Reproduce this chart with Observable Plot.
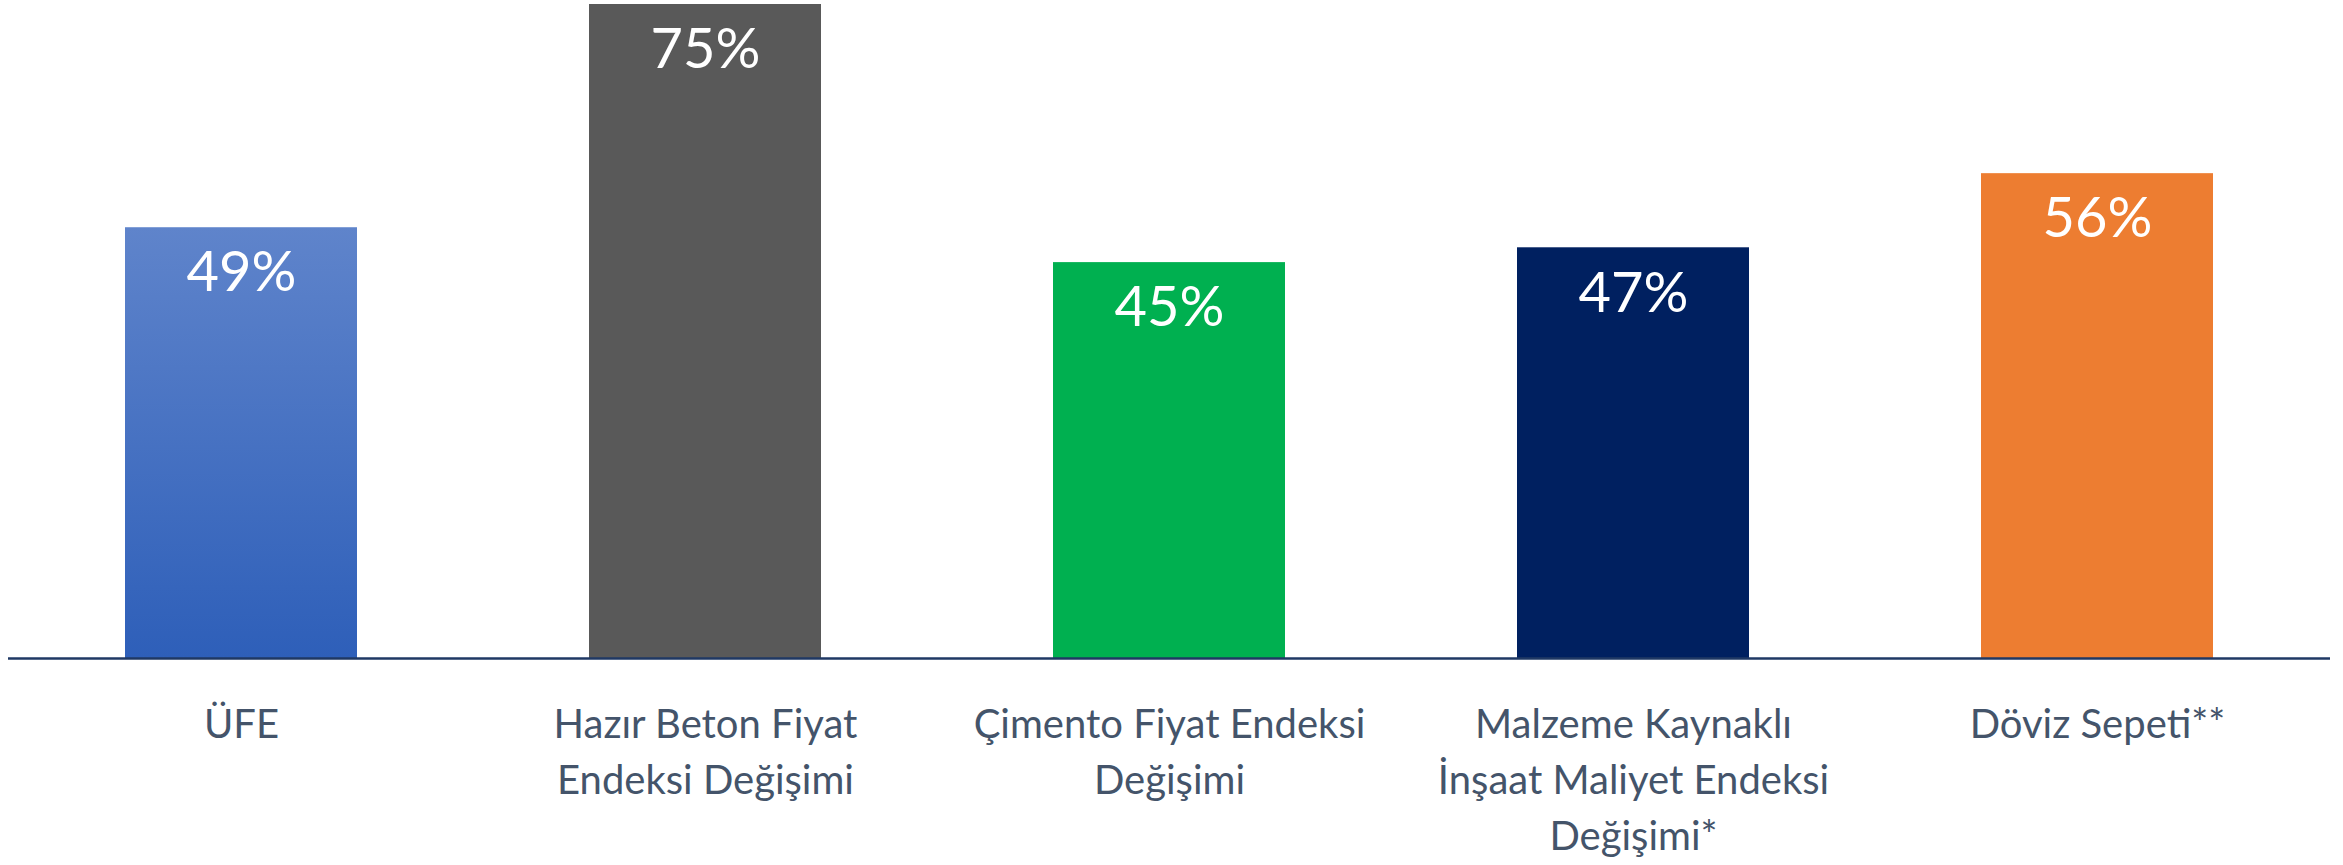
<!DOCTYPE html>
<html>
<head>
<meta charset="utf-8">
<script src="https://cdn.jsdelivr.net/npm/d3@7"></script>
<script src="https://cdn.jsdelivr.net/npm/@observablehq/plot@0.6"></script>
<style>
  html, body { margin: 0; padding: 0; background: #ffffff; }
  #chart svg { display: block; }
</style>
</head>
<body>
<div id="chart"></div>
<script>
// Categories (x axis)
const categories = [
  "ÜFE",
  "Hazır Beton Fiyat Endeksi Değişimi",
  "Çimento Fiyat Endeksi Değişimi",
  "Malzeme Kaynaklı İnşaat Maliyet Endeksi Değişimi*",
  "Döviz Sepeti**"
];
// Tick labels as displayed (with line breaks)
const tickLabels = [
  "ÜFE",
  "Hazır Beton Fiyat\nEndeksi Değişimi",
  "Çimento Fiyat Endeksi\nDeğişimi",
  "Malzeme Kaynaklı\nİnşaat Maliyet Endeksi\nDeğişimi*",
  "Döviz Sepeti**"
];
// Values (%)
const values = [49.4, 75.0, 45.4, 47.1, 55.6];
// Displayed value labels
const valueLabels = ["49%", "75%", "45%", "47%", "56%"];
// Bar colours
const barColors = ["url(#ufeGrad)", "#595959", "#00b050", "#002060", "#ed7d31"];

const data = categories.map((c, i) => ({
  category: c,
  tick: tickLabels[i],
  value: values[i],
  label: valueLabels[i],
  color: barColors[i]
}));

const W = 2343, H = 865;
const font = "Lato, 'Open Sans', sans-serif";

const chart = Plot.plot({
  width: W,
  height: H,
  marginLeft: 8,
  marginRight: 13,
  marginTop: 4,
  marginBottom: 207,
  style: { fontFamily: font, background: "#ffffff" },
  x: { domain: categories, paddingInner: 0.5, paddingOuter: 0.25, axis: null },
  y: { domain: [0, 75], axis: null },
  color: { type: "identity" },
  marks: [
    Plot.barY(data, { x: "category", y: "value", fill: "color" }),
    Plot.ruleY([0], { stroke: "#1f3864", strokeWidth: 2.5 }),
    Plot.text(data, {
      x: "category", y: "value", text: "label",
      fill: "#ffffff", fontSize: 56, lineAnchor: "top", dy: 24,
      fontFamily: font
    }),
    Plot.text(data, {
      x: "category", y: () => 0, text: "tick",
      fill: "#44546a", fontSize: 40, lineAnchor: "top", dy: 39,
      lineHeight: 1.41, fontFamily: font
    })
  ]
});

// gradient for the first bar
const ns = "http://www.w3.org/2000/svg";
const defs = document.createElementNS(ns, "defs");
defs.innerHTML = `<linearGradient id="ufeGrad" x1="0" y1="0" x2="0" y2="1">
  <stop offset="0" stop-color="#5f84cb"/>
  <stop offset="1" stop-color="#2e5fb9"/>
</linearGradient>`;
chart.insertBefore(defs, chart.firstChild);

document.getElementById("chart").appendChild(chart);
</script>
</body>
</html>
